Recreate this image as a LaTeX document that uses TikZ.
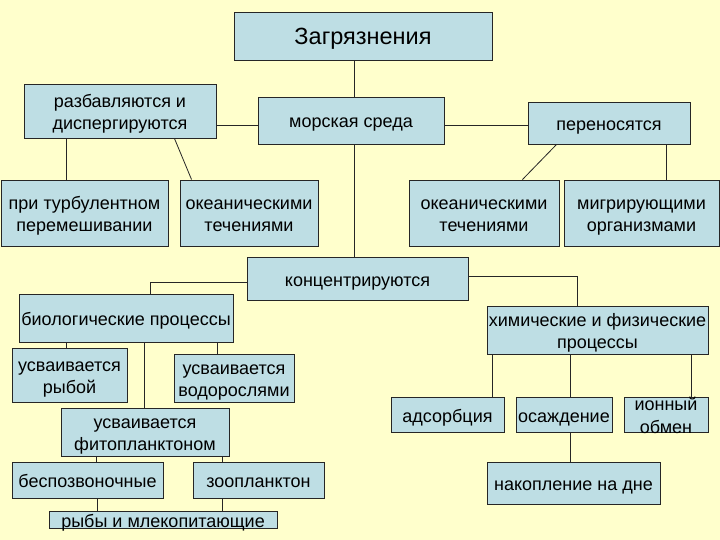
\documentclass[tikz,border=0pt]{standalone}
\usepackage{fontspec}
\setmainfont{Liberation Sans}
\usetikzlibrary{calc, positioning}
\definecolor{boxblue}{RGB}{190, 222, 228}
\definecolor{paleyellow}{RGB}{255, 255, 204}
\tikzset{
  pbox/.style={draw=black!85, line width=0.9pt, fill=boxblue, align=center, inner sep=1pt,
    font=\fontsize{18}{21.5}\selectfont, text height=15pt, text depth=0pt},
  two/.style={text height=36.5pt},
  titlebox/.style={pbox, font=\fontsize{23.5}{27}\selectfont, text height=18pt},
  sz/.style 2 args={minimum width=#1pt, minimum height=#2pt},
  link/.style={draw=black!85, line width=0.8pt},
}
\begin{document}
\begin{tikzpicture}[x=1pt, y=-1pt]
  \fill[paleyellow] (0,0) rectangle (720,540);
  \useasboundingbox (0,0) rectangle (720,540);
  % upper part
  \node[titlebox, sz={258}{48}] (zagr) at (363,36) {Загрязнения};
  \node[pbox, two, sz={192}{54}] (razb) at (120,111) {разбавляются и\\диспергируются};
  \node[pbox, sz={186}{47}] (morsk) at (351,120.5) {морская среда};
  \node[pbox, sz={162}{42}] (peren) at (609,123) {переносятся};
  \node[pbox, two, sz={167}{66}] (turb) at (84.5,213) {при турбулентном\\перемешивании};
  \node[pbox, two, sz={138}{66}] (okeanA) at (249,213) {океаническими\\течениями};
  \node[pbox, two, sz={150}{66}] (okeanB) at (484,213) {океаническими\\течениями};
  \node[pbox, two, sz={155}{66}] (migr) at (641.5,213) {мигрирующими\\организмами};
  \node[pbox, sz={221}{43}] (konc) at (357.5,278.5) {концентрируются};
  % biological branch
  \node[pbox, sz={214}{48}] (bio) at (126,318) {биологические процессы};
  \node[pbox, two, sz={115}{54}] (ryb) at (69.5,375) {усваивается\\рыбой};
  \node[pbox, two, sz={120}{48}] (vodor) at (234,378) {усваивается\\водорослями};
  \node[pbox, two, sz={168}{48}] (fito) at (145,432) {усваивается\\фитопланктоном};
  \node[pbox, sz={151}{36}] (bespoz) at (87.5,480) {беспозвоночные};
  \node[pbox, sz={131}{36}] (zoo) at (258.5,480) {зоопланктон};
  \node[pbox, sz={228}{17}, inner ysep=-1.5pt] (ryby) at (163,519.5) {рыбы и млекопитающие};
  % chemical branch
  \node[pbox, two, sz={221}{48}] (him) at (597.5,330) {химические и физические\\процессы};
  \node[pbox, sz={113}{35}] (adsorb) at (447.5,414.5) {адсорбция};
  \node[pbox, sz={96}{35}] (osazh) at (564,414.5) {осаждение};
  \node[pbox, sz={84}{35}, inner ysep=-3pt, font=\fontsize{18}{23}\selectfont, text height=38pt] (ion) at (666,414.5) {ионный\\обмен};
  \node[pbox, sz={173}{42}] (nakop) at (573.5,483) {накопление на дне};

  \draw[link] ([xshift=3pt]morsk.north) -- ([xshift=3pt]morsk.north |- zagr.south);
  \draw[link] ([yshift=-5pt]morsk.west) -- ([yshift=-5pt]morsk.west -| razb.east);
  \draw[link] ([yshift=-5pt]morsk.east) -- ([yshift=-5pt]morsk.east -| peren.west);
  \draw[link] ([xshift=43pt]razb.south west) -- ([xshift=43pt]razb.south west |- turb.north);
  \draw[link] ([xshift=-42pt]razb.south east) -- ([xshift=12pt]okeanA.north west);
  \draw[link] ([xshift=3pt]morsk.south) -- ([xshift=3pt]morsk.south |- konc.north);
  \draw[link] ([xshift=29pt]peren.south west) -- ([xshift=-37pt]okeanB.north east);
  \draw[link] ([xshift=-24pt]peren.south east) -- ([xshift=-24pt]peren.south east |- migr.north);
  \draw[link] ([yshift=-3.5pt]konc.west) -| ([xshift=24pt]bio.north);
  \draw[link] ([yshift=2.5pt]konc.east) -| ([xshift=-20.5pt]him.north);
  \draw[link] ([xshift=48pt]bio.south west) -- ([xshift=48pt]bio.south west |- ryb.north);
  \draw[link] ([xshift=18pt]bio.south) -- ([xshift=18pt]bio.south |- fito.north);
  \draw[link] ([xshift=-16pt]bio.south east) -- ([xshift=-16pt]bio.south east |- vodor.north);
  \draw[link] ([xshift=36pt]fito.south west) -- ([xshift=36pt]fito.south west |- bespoz.north);
  \draw[link] ([xshift=-7pt]fito.south east) -- ([xshift=-7pt]fito.south east |- zoo.north);
  \draw[link] ([xshift=9.5pt]bespoz.south) -- ([xshift=9.5pt]bespoz.south |- ryby.north);
  \draw[link] ([xshift=-36.5pt]zoo.south) -- ([xshift=-36.5pt]zoo.south |- ryby.north);
  \draw[link] ([xshift=6pt]him.south west) -- ([xshift=6pt]him.south west |- adsorb.north);
  \draw[link] ([xshift=6pt]osazh.north) -- ([xshift=6pt]osazh.north |- him.south);
  \draw[link] ([xshift=-17pt]him.south east) -- ([xshift=-17pt]him.south east |- ion.north);
  \draw[link] ([xshift=6pt]osazh.south) -- ([xshift=6pt]osazh.south |- nakop.north);
\end{tikzpicture}
\end{document}
